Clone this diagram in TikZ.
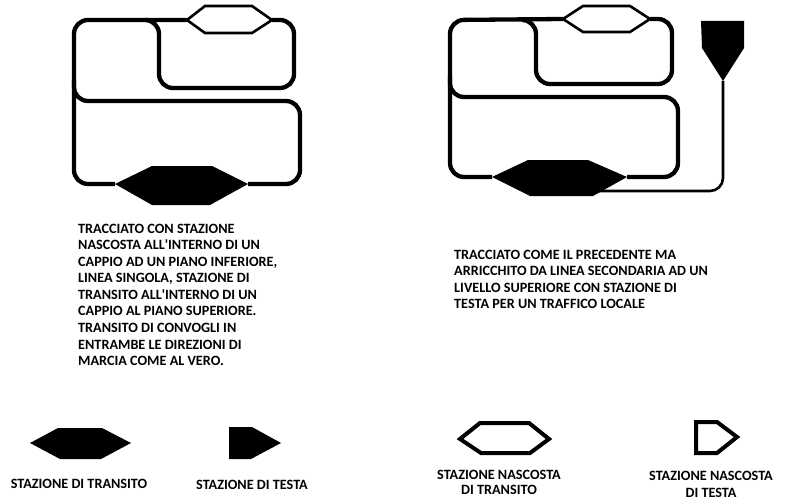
\documentclass[tikz,border=0pt]{standalone}
\usepackage{fontspec}
\setmainfont{Carlito}
\tikzset{
    binario/.style={line width=4.3pt, rounded corners=14pt},
    secondaria/.style={line width=2.6pt, rounded corners=13pt},
    nascosta/.style={line width=2.6pt, fill=white, line join=miter},
    legnascosta/.style={line width=4pt, line join=miter},
    visibile/.style={fill=black},
    testo/.style={anchor=base west, inner sep=0pt, font=\bfseries\fontsize{14.2}{15}\selectfont},
    didascalia/.style={align=center, anchor=base, inner sep=0pt, font=\bfseries\fontsize{14.2}{15.5}\selectfont}
}
\begin{document}
\begin{tikzpicture}[x=1pt,y=-1pt]
        \useasboundingbox (0,0) rectangle (800,500);

        % primo tracciato
        \coordinate (nascA) at (187,20);
        \coordinate (nascB) at (272,20);
        \coordinate (transA) at (115,184);
        \coordinate (transB) at (248,184);
        \coordinate (bivioA) at (145,20);
        \coordinate (bivioB) at (74,80);

        \draw[binario] (nascA) -- (74,20) -- (74,184) -- (transA);
        \draw[binario] (bivioA) -- (159,20) -- (159,88) -- (294,88) -- (294,20) -- (nascB);
        \draw[binario] (bivioB) -- (74,101) -- (300,101) -- (300,184) -- (transB);
        \draw[nascosta] (nascA) -- (205,6) -- (252,6) -- (nascB) -- (252,33) -- (205,33) -- cycle;
        \fill[visibile] (transA) -- (152,166) -- (212,166) -- (transB) -- (210,205) -- (152,205) -- cycle;

        % secondo tracciato
        \coordinate (nascC) at (563,19);
        \coordinate (nascD) at (650,19);
        \coordinate (transC) at (492,177);
        \coordinate (transD) at (627,177);
        \coordinate (bivioC) at (522,20);
        \coordinate (bivioD) at (450,76);
        \coordinate (testaA) at (723,81);
        \coordinate (transE) at (595,191);

        \draw[binario] (nascC) -- (450,20) -- (450,177) -- (transC);
        \draw[binario] (bivioC) -- (536,20) -- (536,84) -- (672,84) -- (672,19) -- (nascD);
        \draw[binario] (bivioD) -- (450,97) -- (678,97) -- (678,177) -- (transD);
        \draw[secondaria] (testaA) -- (723,191) -- (transE);
        \draw[nascosta] (nascC) -- (583,6) -- (630,6) -- (nascD) -- (630,32) -- (583,32) -- cycle;
        \fill[visibile] (transC) -- (528,160) -- (588,160) -- (transD) -- (593,196) -- (530,196) -- cycle;
        \fill[visibile] (701,21) -- (744,21) -- (744,48) -- (testaA) -- (702,48) -- cycle;

        % testi
        \node[testo] (t1) at (78,233) {TRACCIATO CON STAZIONE};
        \node[testo] (t2) at (78,249.5) {NASCOSTA ALL\textquotesingle INTERNO DI UN};
        \node[testo] (t3) at (78,266) {CAPPIO AD UN PIANO INFERIORE,};
        \node[testo] (t4) at (78,282.5) {LINEA SINGOLA, STAZIONE DI};
        \node[testo] (t5) at (78,299) {TRANSITO ALL\textquotesingle INTERNO DI UN};
        \node[testo] (t6) at (78,315.5) {CAPPIO AL PIANO SUPERIORE.};
        \node[testo] (t7) at (78,332.5) {TRANSITO DI CONVOGLI IN};
        \node[testo] (t8) at (78,349) {ENTRAMBE LE DIREZIONI DI};
        \node[testo] (t9) at (78,365.5) {MARCIA COME AL VERO.};

        \node[testo] (s1) at (454,259) {TRACCIATO COME IL PRECEDENTE MA};
        \node[testo] (s2) at (454,275.5) {ARRICCHITO DA LINEA SECONDARIA AD UN};
        \node[testo] (s3) at (454,292) {LIVELLO SUPERIORE CON STAZIONE DI};
        \node[testo] (s4) at (454,308) {TESTA PER UN TRAFFICO LOCALE};

        % legenda
        \fill[visibile] (30,443) -- (58,428) -- (102,428) -- (131,443) -- (101,459) -- (60,459) -- cycle;
        \fill[visibile] (229,427) -- (252,427) -- (281,443) -- (251,459) -- (229,459) -- cycle;
        \draw[legnascosta] (460,439) -- (480,423) -- (529,423) -- (549,439) -- (530,453) -- (481,453) -- cycle;
        \draw[legnascosta] (696,422) -- (717,422) -- (737,437) -- (717,453) -- (696,453) -- cycle;

        \node[didascalia] (leg1) at (79,488.5) {STAZIONE DI TRANSITO};
        \node[didascalia] (leg2) at (252,489.5) {STAZIONE DI TESTA};
        \node[didascalia] (leg3) at (499,494.5) {STAZIONE NASCOSTA\\DI TRANSITO};
        \node[didascalia] (leg4) at (711,497.5) {STAZIONE NASCOSTA\\[1.5pt]DI TESTA};
\end{tikzpicture}
\end{document}
